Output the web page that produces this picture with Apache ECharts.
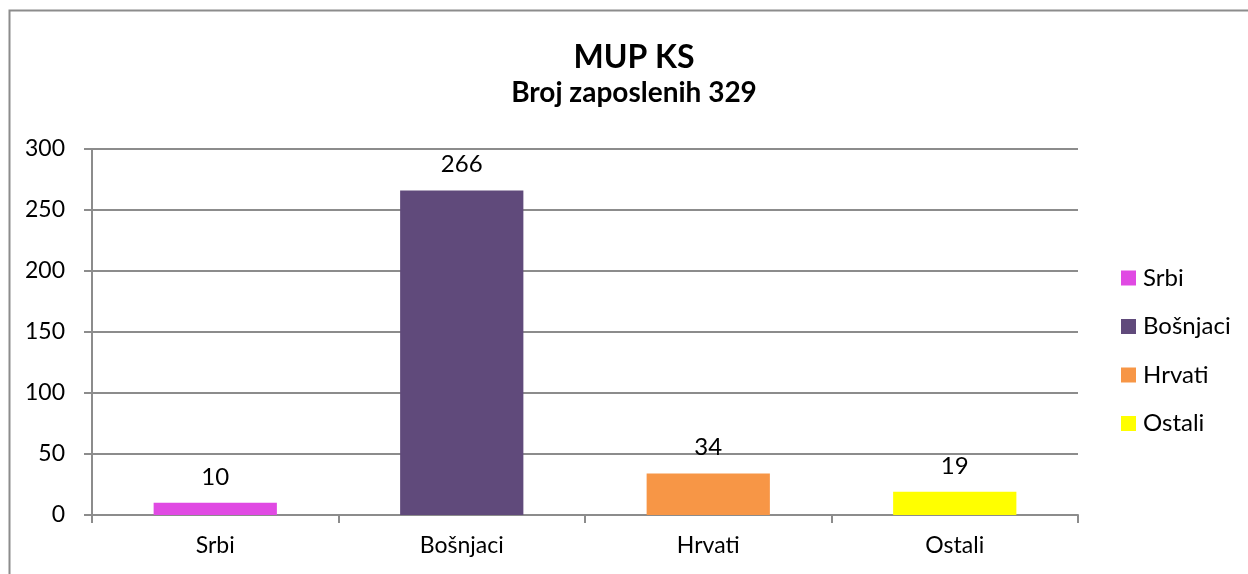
<!DOCTYPE html>
<html>
<head>
<meta charset="utf-8">
<script src="https://cdn.jsdelivr.net/npm/echarts@6/dist/echarts.min.js"></script>
<style>
  html, body { margin: 0; padding: 0; background: #fff; }
  #chart { width: 1248px; height: 574px; }
</style>
</head>
<body>
<div id="chart"></div>
<script>
// podaci
var categories = ['Srbi', 'Bošnjaci', 'Hrvati', 'Ostali'];
var values = [10, 266, 34, 19];
var colors = ['#E04AE3', '#604A7B', '#F79646', '#FFFF00'];
var yTicks = { min: 0, max: 300, interval: 50 };

var font = 'Lato, Carlito, Calibri, sans-serif';
var gray = '#8c8c8c';

// jedna serija po kategoriji, da legenda ima sve stavke
var series = categories.map(function (name, i) {
  var data = categories.map(function (c, j) { return j === i ? values[i] : '-'; });
  return {
    name: name,
    type: 'bar',
    stack: 'sve',
    barWidth: '50%',
    itemStyle: { color: colors[i] },
    label: {
      show: true,
      position: 'top',
      distance: 14,
      color: '#000',
      fontFamily: font,
      fontSize: 24
    },
    data: data
  };
});

var chart = echarts.init(document.getElementById('chart'));
chart.setOption({
  animation: false,
  grid: { left: 92, right: 170, top: 149, bottom: 59 },
  graphic: [
    {
      type: 'rect',
      shape: { x: 9.5, y: 10.5, width: 1400, height: 700 },
      style: { fill: 'none', stroke: gray, lineWidth: 2 }
    },
    {
      type: 'text', x: 634, y: 42,
      style: { text: 'MUP KS', fill: '#000', font: 'bold 32px ' + font, textAlign: 'center' }
    },
    {
      type: 'text', x: 634, y: 79,
      style: { text: 'Broj zaposlenih 329', fill: '#000', font: 'bold 28px ' + font, textAlign: 'center' }
    }
  ],
  legend: {
    orient: 'vertical',
    left: 1121,
    top: 266,
    padding: 0,
    itemWidth: 15,
    itemHeight: 15,
    itemGap: 24.5,
    icon: 'rect',
    data: categories,
    textStyle: { fontFamily: font, fontSize: 24, color: '#000', lineHeight: 24, padding: [0, 0, 0, 2] }
  },
  xAxis: {
    type: 'category',
    data: categories,
    axisLine: { lineStyle: { color: gray, width: 2 } },
    axisTick: { show: true, length: 8, lineStyle: { color: gray, width: 2 } },
    axisLabel: { color: '#000', fontFamily: font, fontSize: 23, margin: 19 }
  },
  yAxis: {
    type: 'value',
    min: yTicks.min,
    max: yTicks.max,
    interval: yTicks.interval,
    axisLine: { show: true, lineStyle: { color: gray, width: 2 } },
    axisTick: { show: true, length: 8, lineStyle: { color: gray, width: 2 } },
    splitLine: { lineStyle: { color: gray, width: 2 } },
    axisLabel: { color: '#000', fontFamily: font, fontSize: 23, margin: 27 }
  },
  series: series
});
</script>
</body>
</html>
